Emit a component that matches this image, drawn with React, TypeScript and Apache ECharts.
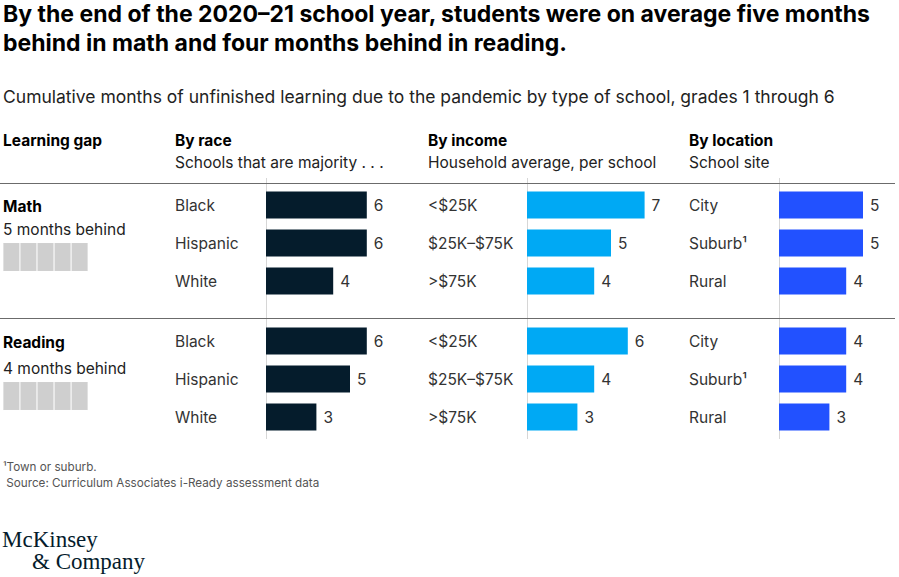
import React, { useEffect, useRef } from "react";
import * as echarts from "echarts";

const titleLines = [
  "By the end of the 2020–21 school year, students were on average five months",
  "behind in math and four months behind in reading.",
];
const subtitle =
  "Cumulative months of unfinished learning due to the pandemic by type of school, grades 1 through 6";

const groupTitles = ["By race", "By income", "By location"];
const groupSubtitles = ["Schools that are majority . . .", "Household average, per school", "School site"];

const raceCats = ["Black", "Hispanic", "White"];
const incomeCats = ["<$25K", "$25K–$75K", ">$75K"];
const locationCats = ["City", "Suburb¹", "Rural"];

const subjects = ["Math", "Reading"];
const monthsBehind = [5, 4];

const mathRace = [6, 6, 4];
const mathIncome = [7, 5, 4];
const mathLocation = [5, 5, 4];
const readingRace = [6, 5, 3];
const readingIncome = [6, 4, 3];
const readingLocation = [4, 4, 3];

const footnotes = ["¹Town or suburb.", " Source: Curriculum Associates i-Ready assessment data"];

const FONT = "Inter, Roboto, sans-serif";
const BODY = 15.5;
const colors = ["#051C2C", "#00A9F4", "#2251FF"];
const colLeft = [266, 527, 779];
const colText = [175, 428, 689];
const rowTop = [186, 322];
const AXIS_MAX = 7;
const PX_PER_UNIT = 16.8;

export default function App() {
  const ref = useRef<HTMLDivElement>(null);
  useEffect(() => {
    if (!ref.current) return;
    const chart = echarts.init(ref.current, undefined, { renderer: "svg" });
    const cats = [raceCats, incomeCats, locationCats];
    const values = [
      [mathRace, mathIncome, mathLocation],
      [readingRace, readingIncome, readingLocation],
    ];
    const grid: any[] = [];
    const xAxis: any[] = [];
    const yAxis: any[] = [];
    const series: any[] = [];
    let gi = 0;
    for (let r = 0; r < 2; r++) {
      for (let c = 0; c < 3; c++) {
        grid.push({ left: colLeft[c], top: rowTop[r], width: AXIS_MAX * PX_PER_UNIT, height: 114 });
        xAxis.push({ type: "value", gridIndex: gi, min: 0, max: AXIS_MAX, show: false });
        yAxis.push({
          type: "category",
          gridIndex: gi,
          data: cats[c],
          inverse: true,
          axisLine: { show: false },
          axisTick: { show: false },
          splitLine: { show: false },
          axisLabel: {
            align: "left",
            margin: colLeft[c] - colText[c],
            fontSize: BODY,
            color: "#333",
            fontFamily: FONT,
          },
        });
        series.push({
          type: "bar",
          xAxisIndex: gi,
          yAxisIndex: gi,
          data: values[r][c],
          barWidth: 27,
          itemStyle: { color: colors[c] },
          label: {
            show: true,
            position: "right",
            distance: 7,
            fontSize: BODY,
            color: "#333",
            fontFamily: FONT,
          },
        });
        gi++;
      }
    }
    // month boxes
    const boxTop = [243, 382];
    for (let r = 0; r < 2; r++) {
      grid.push({ left: 3, top: boxTop[r], width: 85, height: 28 });
      xAxis.push({ type: "value", gridIndex: gi, min: 0, max: 5, show: false });
      yAxis.push({ type: "category", gridIndex: gi, data: [subjects[r]], show: false });
      series.push({
        type: "pictorialBar",
        xAxisIndex: gi,
        yAxisIndex: gi,
        data: [monthsBehind[r]],
        symbol: "rect",
        symbolRepeat: true,
        symbolSize: [16, 28],
        symbolMargin: 1,
        symbolPosition: "start",
        itemStyle: { color: "#cfcfcf", borderColor: "#e6e6e6", borderWidth: 1 },
      });
      gi++;
    }

    const graphic: any[] = [];
    titleLines.forEach((t, i) =>
      graphic.push({
        type: "text",
        x: 3,
        y: 14 + i * 29,
        style: { text: t, fontSize: 23, fontWeight: "bold", fill: "#000", fontFamily: FONT, verticalAlign: "middle" },
      })
    );
    graphic.push({
      type: "text",
      x: 3,
      y: 96,
      style: { text: subtitle, fontSize: 17.5, fill: "#222", fontFamily: FONT, verticalAlign: "middle" },
    });
    graphic.push({
      type: "text",
      x: 3,
      y: 140,
      style: { text: "Learning gap", fontSize: BODY, fontWeight: "bold", fill: "#000", fontFamily: FONT, verticalAlign: "middle" },
    });
    for (let c = 0; c < 3; c++) {
      graphic.push({
        type: "text",
        x: colText[c],
        y: 140,
        style: { text: groupTitles[c], fontSize: BODY, fontWeight: "bold", fill: "#000", fontFamily: FONT, verticalAlign: "middle" },
      });
      graphic.push({
        type: "text",
        x: colText[c],
        y: 162,
        style: { text: groupSubtitles[c], fontSize: BODY, fill: "#222", fontFamily: FONT, verticalAlign: "middle" },
      });
    }
    const subjY = [206, 342];
    const behindY = [229, 368];
    for (let r = 0; r < 2; r++) {
      graphic.push({
        type: "text",
        x: 3,
        y: subjY[r],
        style: { text: subjects[r], fontSize: BODY, fontWeight: "bold", fill: "#000", fontFamily: FONT, verticalAlign: "middle" },
      });
      graphic.push({
        type: "text",
        x: 3,
        y: behindY[r],
        style: { text: `${monthsBehind[r]} months behind`, fontSize: BODY, fill: "#222", fontFamily: FONT, verticalAlign: "middle" },
      });
    }
    // lines
    for (const y of [183.5, 318.5]) {
      graphic.push({ type: "line", shape: { x1: 0, y1: y, x2: 895, y2: y }, style: { stroke: "#6b6b6b", lineWidth: 1 } });
    }
    for (const x of colLeft) {
      graphic.push({ type: "line", z: -1, shape: { x1: x + 0.5, y1: 178, x2: x + 0.5, y2: 439 }, style: { stroke: "#d6d6d6", lineWidth: 1 } });
    }
    footnotes.forEach((t, i) =>
      graphic.push({
        type: "text",
        x: 3,
        y: 467 + i * 16,
        style: { text: t, fontSize: 11.7, fill: "#555", fontFamily: FONT, verticalAlign: "middle" },
      })
    );
    graphic.push({
      type: "text",
      x: 2,
      y: 539,
      style: { text: "McKinsey", fontSize: 23, fill: "#051C2C", fontFamily: "'Liberation Serif', serif", verticalAlign: "middle" },
    });
    graphic.push({
      type: "text",
      x: 32,
      y: 561,
      style: { text: "& Company", fontSize: 23, fill: "#051C2C", fontFamily: "'Liberation Serif', serif", verticalAlign: "middle" },
    });

    chart.setOption({
      animation: false,
      backgroundColor: "#fff",
      grid,
      xAxis,
      yAxis,
      series,
      graphic,
    });
    return () => chart.dispose();
  }, []);
  return <div ref={ref} style={{ position: "absolute", left: 0, top: 0, width: 899, height: 577 }} />;
}
